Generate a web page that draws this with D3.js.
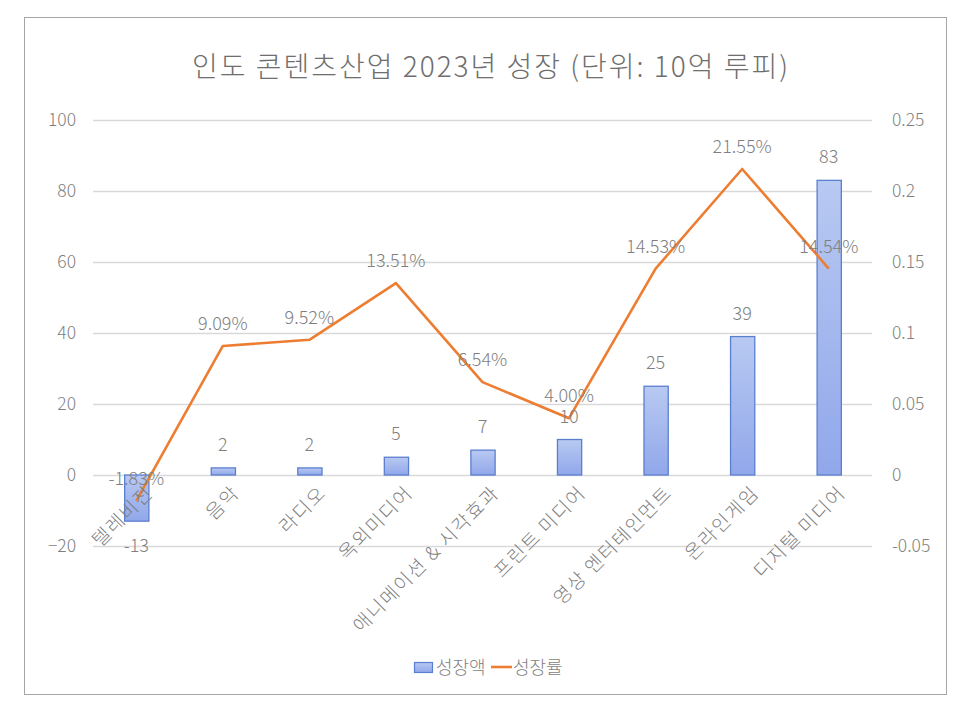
<!DOCTYPE html>
<html><head><meta charset="utf-8">
<script src="https://cdn.jsdelivr.net/npm/d3@7"></script>
<style>
html,body{margin:0;padding:0;background:#fff;}
svg text{font-family:"Noto Sans CJK KR","Noto Sans",sans-serif;fill:#7f7f7f;font-weight:300;}
</style></head><body>
<svg id="c" width="971" height="713"></svg>
<script>
const categories = ["텔레비전","음악","라디오","옥외미디어","애니메이션 & 시각효과","프린트 미디어","영상 엔터테인먼트","온라인게임","디지털 미디어"];
const growthAmount = [-13, 2, 2, 5, 7, 10, 25, 39, 83];
const growthRate = [-0.0183, 0.0909, 0.0952, 0.1351, 0.0654, 0.0400, 0.1453, 0.2155, 0.1454];
const leftTicks = [-20, 0, 20, 40, 60, 80, 100];
const rightTicks = [-0.05, 0, 0.05, 0.1, 0.15, 0.2, 0.25];
const rightTickLabels = ["-0.05","0","0.05","0.1","0.15","0.2","0.25"];
const seriesNames = ["성장액","성장률"];
const title = "인도 콘텐츠산업 2023년 성장 (단위: 10억 루피)";

const svg = d3.select("#c");
svg.append("rect").attr("x",24.5).attr("y",17.5).attr("width",922).attr("height",677)
  .attr("fill","#fff").attr("stroke","#a6a6a6").attr("stroke-width",1);

const defs = svg.append("defs");
const grad = defs.append("linearGradient").attr("id","barg").attr("x1",0).attr("y1",0).attr("x2",0).attr("y2",1);
grad.append("stop").attr("offset","0%").attr("stop-color","#b8c9f2");
grad.append("stop").attr("offset","100%").attr("stop-color","#91a7ea");

const pL = 93, pR = 872, pT = 120, pB = 546;
const x = d3.scaleBand().domain(categories).range([pL,pR]).paddingInner(0.72).paddingOuter(0.36);
const xc = d3.scaleBand().domain(categories).range([pL,pR]);
const yL = d3.scaleLinear().domain([-20,100]).range([pB,pT]);
const yR = d3.scaleLinear().domain([-0.05,0.25]).range([pB,pT]);

svg.append("text").attr("x",491).attr("y",77).attr("text-anchor","middle")
  .attr("font-size",28).attr("letter-spacing",2).style("fill","#6e6e6e").text(title);

// gridlines
svg.append("g").selectAll("line").data(leftTicks).join("line")
  .attr("x1",pL).attr("x2",pR).attr("y1",d=>yL(d)+0.5).attr("y2",d=>yL(d)+0.5)
  .attr("stroke","#d9d9d9").attr("stroke-width",1.3);

// left axis
const gL = svg.append("g").attr("transform",`translate(${pL-17},0)`)
  .call(d3.axisLeft(yL).tickValues(leftTicks).tickSize(0).tickPadding(0));
gL.select(".domain").remove();
gL.selectAll("text").attr("font-size",17.5).style("font-family","'Noto Sans CJK KR',sans-serif").style("fill","#7f7f7f").style("font-weight",300);

// right axis
const gR = svg.append("g").attr("transform",`translate(${pR+20},0)`)
  .call(d3.axisRight(yR).tickValues(rightTicks).tickSize(0).tickPadding(0).tickFormat((d,i)=>rightTickLabels[i]));
gR.select(".domain").remove();
gR.selectAll("text").attr("font-size",17.5).style("font-family","'Noto Sans CJK KR',sans-serif").style("fill","#7f7f7f").style("font-weight",300);

// bars
svg.append("g").selectAll("rect").data(growthAmount).join("rect")
  .attr("x",(d,i)=>x(categories[i])+0.5)
  .attr("width",x.bandwidth())
  .attr("y",d=>yL(Math.max(0,d)))
  .attr("height",d=>Math.abs(yL(d)-yL(0)))
  .attr("fill","url(#barg)").attr("stroke","#5b7fcf").attr("stroke-width",1.3);

// line
const line = d3.line().x((d,i)=>xc(categories[i])+xc.bandwidth()/2).y(d=>yR(d));
svg.append("path").datum(growthRate).attr("d",line)
  .attr("fill","none").attr("stroke","#ed7d31").attr("stroke-width",2.6).attr("stroke-linejoin","round");

// bar labels
svg.append("g").selectAll("text").data(growthAmount).join("text")
  .attr("x",(d,i)=>xc(categories[i])+xc.bandwidth()/2)
  .attr("y",d=> d>=0 ? yL(d)-17 : yL(d)+31)
  .attr("text-anchor","middle").attr("font-size",18).text(d=>d<0?"-"+Math.abs(d):d);

// line labels
svg.append("g").selectAll("text").data(growthRate).join("text")
  .attr("x",(d,i)=>xc(categories[i])+xc.bandwidth()/2)
  .attr("y",d=>yR(d)-16)
  .attr("text-anchor","middle").attr("font-size",18).text(d=>d3.format(".2%")(d).replace("−","-"));

// category labels
svg.append("g").selectAll("text").data(categories).join("text")
  .attr("transform",(d,i)=>`translate(${xc(d)+xc.bandwidth()/2+18},${494}) rotate(-45)`)
  .attr("text-anchor","end").attr("font-size",19).attr("letter-spacing",1.6).text(d=>d);

// legend
const lg = svg.append("g");
lg.append("rect").attr("x",414.5).attr("y",662.5).attr("width",18).attr("height",10)
  .attr("fill","url(#barg)").attr("stroke","#5b7fcf").attr("stroke-width",1.2);
lg.append("text").attr("x",436).attr("y",674).attr("font-size",18).text(seriesNames[0]);
lg.append("line").attr("x1",491).attr("x2",512).attr("y1",667).attr("y2",667)
  .attr("stroke","#ed7d31").attr("stroke-width",2.6);
lg.append("text").attr("x",513).attr("y",674).attr("font-size",18).text(seriesNames[1]);
</script>
</body></html>
